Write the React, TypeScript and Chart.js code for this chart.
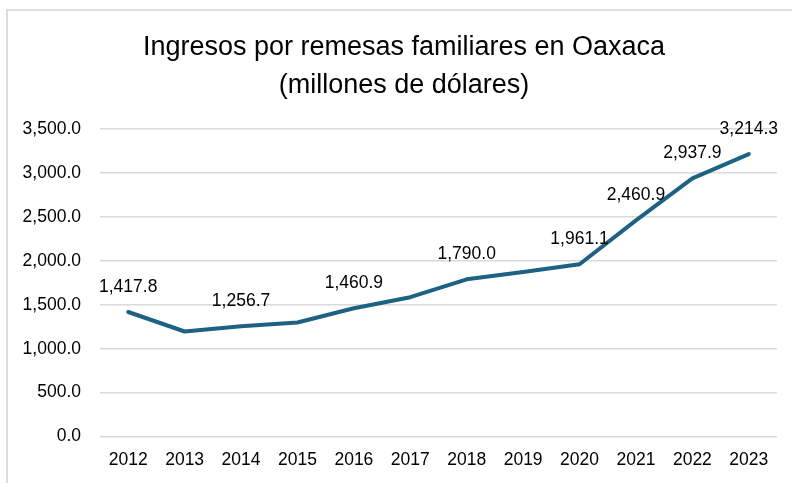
import React, { useEffect, useRef } from "react";
import { Chart, registerables } from "chart.js";

Chart.register(...registerables);

const years = ["2012", "2013", "2014", "2015", "2016", "2017", "2018", "2019", "2020", "2021", "2022", "2023"];
const remesas = [1417.8, 1196.0, 1256.7, 1298.0, 1460.9, 1586.0, 1790.0, 1874.0, 1961.1, 2460.9, 2937.9, 3214.3];
const labeledYears = ["2012", "2014", "2016", "2018", "2020", "2021", "2022", "2023"];
const titleLines = ["Ingresos por remesas familiares en Oaxaca", "(millones de dólares)"];
const yMin = 0;
const yMax = 3500;
const yStep = 500;

const FONT = "'Liberation Sans', Arial, Helvetica, sans-serif";
const LINE_COLOR = "#1d6283";

const fmt = (v: number) =>
  v.toLocaleString("en-US", { minimumFractionDigits: 1, maximumFractionDigits: 1 });

const dataLabelPlugin = {
  id: "dataLabels",
  afterDatasetsDraw(chart: any) {
    const ctx = chart.ctx;
    const meta = chart.getDatasetMeta(0);
    ctx.save();
    ctx.font = `17.5px ${FONT}`;
    ctx.fillStyle = "#000000";
    ctx.textAlign = "center";
    ctx.textBaseline = "alphabetic";
    meta.data.forEach((pt: any, i: number) => {
      if (!labeledYears.includes(years[i])) return;
      ctx.fillText(fmt(remesas[i]), pt.x, pt.y - 20);
    });
    ctx.restore();
  },
};

const titlePlugin = {
  id: "centeredTitle",
  afterDraw(chart: any) {
    const ctx = chart.ctx;
    ctx.save();
    ctx.font = `27px ${FONT}`;
    ctx.fillStyle = "#000000";
    ctx.textAlign = "center";
    ctx.textBaseline = "alphabetic";
    ctx.fillText(titleLines[0], 404, 55);
    ctx.fillText(titleLines[1], 404, 93);
    ctx.restore();
  },
};

export default function App() {
  const ref = useRef<HTMLCanvasElement | null>(null);

  useEffect(() => {
    if (!ref.current) return;
    const chart = new Chart(ref.current, {
      type: "line",
      data: {
        labels: years,
        datasets: [
          {
            data: remesas,
            borderColor: LINE_COLOR,
            backgroundColor: LINE_COLOR,
            borderWidth: 4,
            pointRadius: 0,
            tension: 0,
            borderJoinStyle: "round",
            borderCapStyle: "round",
          },
        ],
      },
      options: {
        responsive: false,
        animation: false,
        layout: { padding: { left: 0, right: 15, top: 129, bottom: 0 } },
        plugins: {
          legend: { display: false },
          tooltip: { enabled: false },
          title: { display: false },
        },
        scales: {
          x: {
            offset: true,
            grid: { display: false, drawTicks: false },
            border: { display: false },
            ticks: {
              color: "#000000",
              font: { family: FONT, size: 17.5 },
              padding: 13,
              maxRotation: 0,
              autoSkip: false,
            },
            afterFit(scale: any) {
              scale.height = 46.4;
            },
          },
          y: {
            min: yMin,
            max: yMax,
            grid: { color: "#d9d9d9", lineWidth: 1.5, drawTicks: false },
            border: { display: false },
            ticks: {
              stepSize: yStep,
              color: "#000000",
              font: { family: FONT, size: 17.5 },
              padding: 19,
              callback: (v: any) => fmt(Number(v)),
            },
            afterFit(scale: any) {
              scale.width = 100;
            },
          },
        },
      },
      plugins: [dataLabelPlugin, titlePlugin],
    });
    return () => chart.destroy();
  }, []);

  return (
    <div style={{ position: "fixed", left: 0, top: 0, width: 792, height: 483, background: "#ffffff" }}>
      <div
        style={{
          position: "absolute",
          left: 6,
          top: 9,
          width: 800,
          height: 490,
          border: "2px solid #dcdcdc",
          boxSizing: "border-box",
        }}
      />
      <canvas
        ref={ref}
        width={792}
        height={483}
        style={{ position: "absolute", left: 0, top: 0, width: 792, height: 483 }}
      />
    </div>
  );
}
